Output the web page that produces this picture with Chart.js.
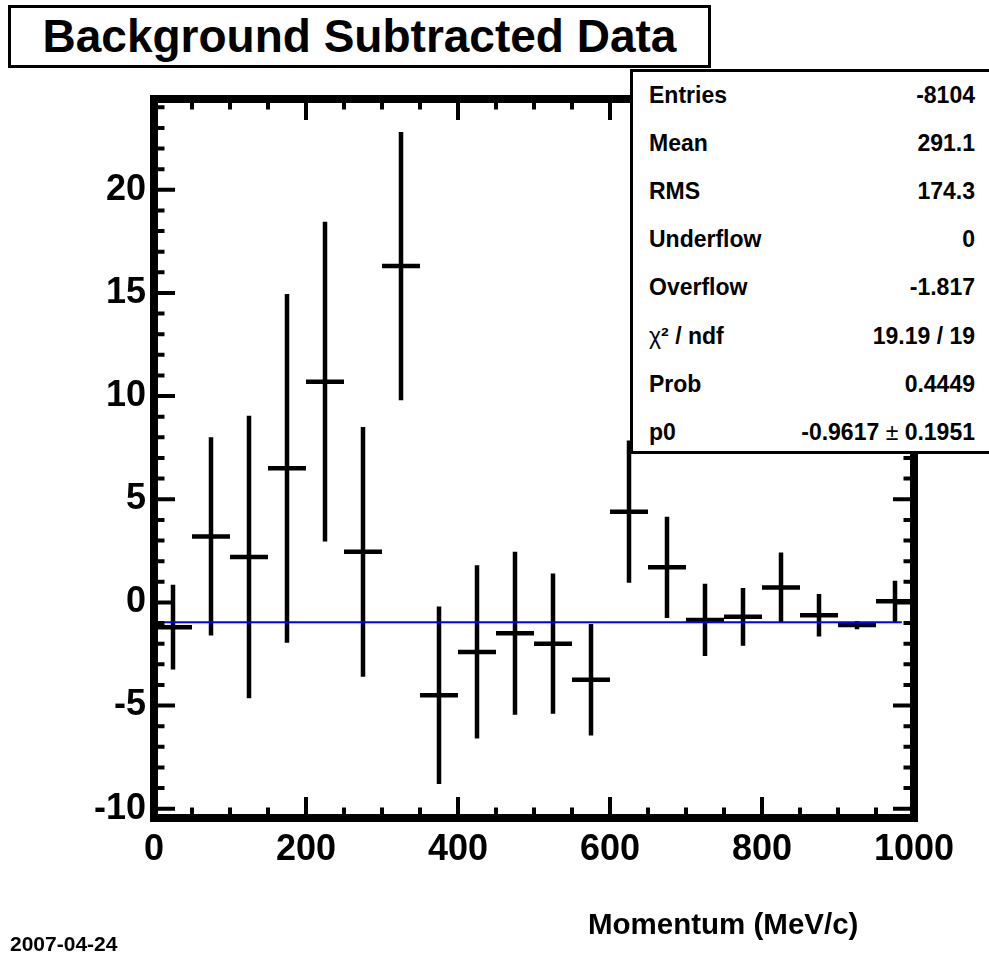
<!DOCTYPE html>
<html>
<head>
<meta charset="utf-8">
<title>Background Subtracted Data</title>
<script src="https://cdn.jsdelivr.net/npm/chart.js@4.4.1/dist/chart.umd.min.js"></script>
<style>
    body {
        margin: 0;
        background: #fff;
        font-family: 'Liberation Sans', Arial, sans-serif;
        font-weight: bold;
        color: #000;
    }
    #page {
        position: relative;
        width: 989px;
        height: 961px;
        overflow: hidden;
    }
    #c {
        position: absolute;
        left: 0;
        top: 0;
    }
    .title-box {
        position: absolute;
        left: 8px;
        top: 5px;
        width: 703px;
        height: 63px;
        box-sizing: border-box;
        border: 3px solid #000;
        background: #fff;
        font-size: 46px;
        line-height: 57px;
        text-align: center;
    }
    .stats-box {
        position: absolute;
        left: 630px;
        top: 69px;
        width: 370px;
        height: 385px;
        box-sizing: border-box;
        border: 3px solid #000;
        background: #fff;
    }
    .stat {
        position: absolute;
        height: 30px;
        line-height: 30px;
        font-size: 23px;
        white-space: nowrap;
    }
    .stat.value { text-align: right; }
    .sym { font-weight: normal; }
    .date {
        position: absolute;
        left: 10px;
        top: 929px;
        height: 30px;
        line-height: 30px;
        font-size: 21px;
    }
    .x-title {
        position: absolute;
        left: 588px;
        top: 909px;
        height: 30px;
        line-height: 30px;
        font-size: 29.5px;
        white-space: nowrap;
    }
</style>
</head>
<body>
<div id="page">
    <canvas id="c" width="989" height="961"></canvas>
    <div class="title-box">Background Subtracted Data</div>
    <div class="stats-box"></div>
    <div class="date">2007-04-24</div>
    <div class="x-title">Momentum (MeV/c)</div>
</div>
<script>
// Histogram bins (MeV/c) and background subtracted contents
const binCenters = [25, 75, 125, 175, 225, 275, 325, 375, 425, 475, 525, 575, 625, 675, 725, 775, 825, 875, 925, 975];
const binWidth = 50;
const counts = [-1.2, 3.2, 2.2, 6.5, 10.7, 2.45, 16.3, -4.5, -2.4, -1.5, -2.0, -3.75, 4.4, 1.7, -0.85, -0.7, 0.72, -0.62, -1.1, 0.05];
const errors = [2.05, 4.8, 6.85, 8.45, 7.75, 6.05, 6.5, 4.3, 4.2, 3.95, 3.4, 2.7, 3.45, 2.45, 1.75, 1.4, 1.7, 1.03, 0.2, 1.0];

// Constant fit (pol0)
const fitP0 = -0.9617;
const fitRange = [12, 984];

// Axes
const xRange = [0, 1000];
const yRange = [-10.45, 24.4];
const xMajorStep = 200;
const xMinorStep = 50;
const yMajorStep = 5;
const yMinorStep = 1;

// Stats box
const statLabels = ['Entries', 'Mean', 'RMS', 'Underflow', 'Overflow', 'χ² / ndf', 'Prob', 'p0'];
const statValues = ['-8104', '291.1', '174.3', '0', '-1.817', '19.19 / 19', '0.4449', '-0.9617 ± 0.1951'];

const FONT = "'Liberation Sans', Arial, sans-serif";

document.addEventListener('DOMContentLoaded', function() {
    buildStats();
    drawChart();
});

function buildStats() {
    const page = document.getElementById('page');
    statLabels.forEach((label, i) => {
        const top = 95 + 48.1 * i - 15;

        const l = document.createElement('div');
        l.className = 'stat';
        l.style.left = '649px';
        l.style.top = top + 'px';
        if (label.startsWith('χ')) {
            l.innerHTML = '<span class="sym">χ</span>' + label.slice(1);
        } else {
            l.textContent = label;
        }
        page.appendChild(l);

        const v = document.createElement('div');
        v.className = 'stat value';
        v.style.right = '14px';
        v.style.top = top + 'px';
        v.innerHTML = statValues[i].replace('±', '<span class="sym">±</span>');
        page.appendChild(v);
    });
}

// ROOT style frame with inward ticks on all four sides
const frameTicks = {
    id: 'frameTicks',
    afterDatasetsDraw(chart) {
        const { ctx, chartArea: a } = chart;
        const x = chart.scales.x;
        const y = chart.scales.y;
        ctx.save();
        ctx.strokeStyle = '#000';
        ctx.lineWidth = 4;
        ctx.beginPath();
        for (let v = xRange[0]; v <= xRange[1]; v += xMinorStep) {
            const px = x.getPixelForValue(v);
            const len = v % xMajorStep === 0 ? 21 : 10.5;
            ctx.moveTo(px, a.bottom);
            ctx.lineTo(px, a.bottom - len);
            ctx.moveTo(px, a.top);
            ctx.lineTo(px, a.top + len);
        }
        for (let v = Math.ceil(yRange[0]); v <= yRange[1]; v += yMinorStep) {
            const py = y.getPixelForValue(v);
            const len = v % yMajorStep === 0 ? 21 : 10.5;
            ctx.moveTo(a.left, py);
            ctx.lineTo(a.left + len, py);
            ctx.moveTo(a.right, py);
            ctx.lineTo(a.right - len, py);
        }
        ctx.stroke();
        ctx.lineWidth = 8;
        ctx.strokeRect(a.left, a.top, a.right - a.left, a.bottom - a.top);
        ctx.restore();
    }
};

function drawChart() {
    // error bars as broken line segments (null breaks the line)
    const xBars = [];
    const yBars = [];
    binCenters.forEach((c, i) => {
        xBars.push({ x: c - binWidth / 2, y: counts[i] });
        xBars.push({ x: c + binWidth / 2, y: counts[i] });
        xBars.push({ x: c, y: null });
        yBars.push({ x: c, y: counts[i] - errors[i] });
        yBars.push({ x: c, y: counts[i] + errors[i] });
        yBars.push({ x: c, y: null });
    });

    const ctx = document.getElementById('c').getContext('2d');
    new Chart(ctx, {
        type: 'line',
        data: {
            datasets: [
                {
                    label: 'fit',
                    data: [{ x: fitRange[0], y: fitP0 }, { x: fitRange[1], y: fitP0 }],
                    borderColor: '#0000ff',
                    borderWidth: 2,
                    pointRadius: 0
                },
                {
                    label: 'x errors',
                    data: xBars,
                    borderColor: '#000',
                    borderWidth: 4.5,
                    borderCapStyle: 'butt',
                    spanGaps: false,
                    pointRadius: 0
                },
                {
                    label: 'y errors',
                    data: yBars,
                    borderColor: '#000',
                    borderWidth: 4.5,
                    borderCapStyle: 'butt',
                    spanGaps: false,
                    pointRadius: 0
                }
            ]
        },
        options: {
            responsive: false,
            animation: false,
            devicePixelRatio: 1,
            layout: {
                padding: { top: 99, right: 75, left: 0, bottom: 0 }
            },
            plugins: {
                legend: { display: false },
                tooltip: { enabled: false }
            },
            scales: {
                x: {
                    type: 'linear',
                    min: xRange[0],
                    max: xRange[1],
                    afterFit: function(scale) { scale.height = 143; },
                    grid: { display: false, drawTicks: false },
                    border: { display: false },
                    ticks: {
                        stepSize: xMajorStep,
                        maxRotation: 0,
                        autoSkip: false,
                        padding: 10,
                        color: '#000',
                        font: { family: FONT, size: 36, weight: 'bold' },
                        callback: function(value) { return String(value); }
                    }
                },
                y: {
                    type: 'linear',
                    min: yRange[0],
                    max: yRange[1],
                    afterFit: function(scale) { scale.width = 154; },
                    grid: { display: false, drawTicks: false },
                    border: { display: false },
                    ticks: {
                        stepSize: yMajorStep,
                        includeBounds: false,
                        padding: 8,
                        color: '#000',
                        font: { family: FONT, size: 36, weight: 'bold' },
                        callback: function(value) { return String(value); }
                    }
                }
            }
        },
        plugins: [frameTicks]
    });
}
</script>
</body>
</html>
